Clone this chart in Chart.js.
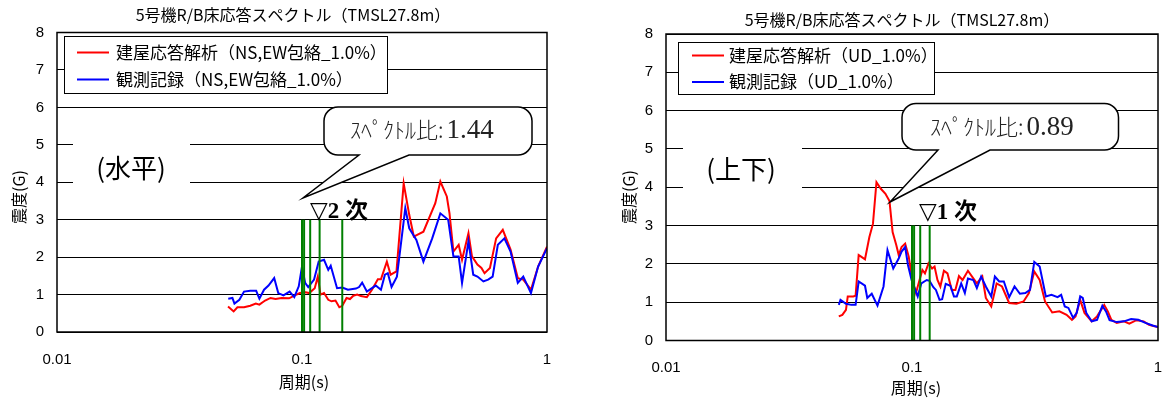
<!DOCTYPE html>
<html lang="ja">
<head>
<meta charset="UTF-8">
<title>5号機R/B床応答スペクトル</title>
<script src="https://cdn.jsdelivr.net/npm/chart.js"></script>
<style>
  html, body { margin: 0; padding: 0; background: #fff; }
  body { width: 1163px; height: 399px; position: relative; overflow: hidden; }
  .panel { position: absolute; top: 0; }
  #hPanel { left: 0; width: 580px; height: 399px; }
  #vPanel { left: 600px; width: 563px; height: 399px; }
</style>
</head>
<body>
<div class="panel" id="hPanel"><canvas id="hChart" width="580" height="399"></canvas></div>
<div class="panel" id="vPanel"><canvas id="vChart" width="563" height="399"></canvas></div>
<script>
// ---- data ----
const chartTitle = '5号機R/B床応答スペクトル（TMSL27.8m）';
const xTitle = '周期(s)';
const yTitle = '震度(G)';
const xTickValues = [0.01, 0.1, 1];

// horizontal (NS,EW envelope)
const hLabels = ['建屋応答解析（NS,EW包絡_1.0%）', '観測記録（NS,EW包絡_1.0%）'];
const hRedT = [0.0499, 0.0526, 0.0545, 0.058, 0.0615, 0.0648, 0.067, 0.0707, 0.0744, 0.078, 0.0825, 0.0886, 0.093, 0.098, 0.1034, 0.107, 0.1127, 0.116, 0.119, 0.123, 0.128, 0.132, 0.137, 0.142, 0.146, 0.152, 0.157, 0.162, 0.168, 0.174, 0.184, 0.193, 0.204, 0.21, 0.222, 0.23, 0.243, 0.26, 0.274, 0.286, 0.313, 0.35, 0.367, 0.39, 0.40, 0.415, 0.436, 0.45, 0.478, 0.494, 0.52, 0.54, 0.556, 0.585, 0.62, 0.66, 0.71, 0.76, 0.80, 0.86, 0.92, 1.0];
const hRedG = [0.68, 0.55, 0.66, 0.66, 0.70, 0.76, 0.73, 0.84, 0.91, 0.88, 0.91, 0.90, 0.97, 1.04, 1.06, 1.04, 1.17, 1.48, 1.0, 1.04, 0.86, 0.82, 0.84, 0.66, 0.70, 0.91, 0.88, 0.97, 1.0, 0.96, 0.93, 1.13, 1.41, 1.41, 1.88, 1.53, 1.62, 3.97, 3.13, 2.55, 2.68, 3.44, 4.02, 3.62, 3.17, 2.15, 2.33, 1.93, 2.64, 2.02, 1.80, 1.71, 1.57, 1.71, 2.5, 2.73, 2.2, 1.44, 1.40, 1.13, 1.75, 2.28];
const hBlueT = [0.05, 0.052, 0.053, 0.0555, 0.058, 0.0615, 0.065, 0.067, 0.070, 0.073, 0.077, 0.080, 0.084, 0.089, 0.093, 0.097, 0.100, 0.103, 0.106, 0.112, 0.117, 0.123, 0.128, 0.131, 0.139, 0.146, 0.154, 0.166, 0.171, 0.176, 0.184, 0.193, 0.20, 0.21, 0.218, 0.224, 0.232, 0.244, 0.264, 0.274, 0.293, 0.313, 0.34, 0.367, 0.395, 0.415, 0.436, 0.45, 0.478, 0.50, 0.52, 0.55, 0.575, 0.60, 0.63, 0.67, 0.71, 0.76, 0.80, 0.86, 0.92, 1.0];
const hBlueG = [0.89, 0.91, 0.76, 0.86, 1.08, 1.10, 1.10, 0.89, 1.13, 1.24, 1.44, 1.04, 0.98, 1.08, 0.93, 1.22, 1.75, 1.31, 1.2, 1.40, 1.88, 1.93, 1.66, 1.77, 1.17, 1.19, 1.13, 1.16, 1.2, 1.32, 1.08, 1.17, 1.24, 1.13, 1.53, 1.57, 1.2, 1.48, 3.31, 2.77, 2.46, 1.88, 2.5, 3.17, 3.0, 2.02, 2.02, 1.31, 2.42, 1.53, 1.48, 1.35, 1.40, 1.48, 2.33, 2.5, 2.15, 1.31, 1.48, 1.04, 1.75, 2.24];
const hModeT = [0.1, 0.102, 0.108, 0.118, 0.146];
const hRatio = '1.44';
const hDir = '(水平)';
const hModeText = '▽2 次';

// vertical (UD)
const vLabels = ['建屋応答解析（UD_1.0%）', '観測記録（UD_1.0%）'];
const vRedT = [0.0504, 0.0521, 0.0539, 0.0548, 0.0577, 0.0590, 0.0607, 0.0621, 0.0644, 0.0671, 0.0694, 0.0717, 0.0747, 0.0780, 0.0810, 0.0834, 0.0863, 0.0883, 0.0907, 0.0938, 0.0970, 0.1003, 0.1038, 0.1073, 0.1102, 0.1129, 0.1167, 0.1207, 0.1235, 0.1269, 0.1304, 0.1348, 0.1394, 0.1451, 0.1501, 0.1552, 0.1605, 0.1688, 0.1775, 0.1835, 0.1931, 0.1996, 0.2100, 0.2208, 0.2322, 0.2483, 0.2656, 0.2841, 0.2987, 0.3141, 0.3304, 0.3474, 0.3715, 0.3973, 0.4250, 0.4469, 0.4622, 0.4828, 0.5026, 0.5375, 0.5652, 0.6045, 0.6251, 0.6464, 0.6798, 0.7270, 0.7645, 0.8176, 0.8745, 0.9196, 0.9670, 1.0];
const vRedG = [0.63, 0.67, 0.80, 1.15, 1.15, 1.17, 2.23, 2.19, 2.12, 2.70, 3.05, 4.13, 3.96, 3.83, 3.64, 2.83, 2.49, 2.23, 2.44, 2.53, 2.19, 1.58, 1.24, 1.58, 1.84, 1.75, 2.01, 1.88, 1.93, 1.58, 1.41, 1.82, 1.75, 1.32, 1.32, 1.68, 1.58, 1.82, 1.62, 1.49, 1.67, 1.11, 0.89, 1.49, 1.41, 0.98, 0.96, 1.02, 1.24, 1.80, 1.58, 1.02, 0.73, 0.76, 0.67, 0.54, 0.63, 1.06, 0.72, 0.50, 0.63, 0.93, 0.76, 0.54, 0.46, 0.50, 0.44, 0.53, 0.50, 0.41, 0.37, 0.35];
const vBlueT = [0.0504, 0.0512, 0.0539, 0.0567, 0.0590, 0.0607, 0.0644, 0.0658, 0.0686, 0.0724, 0.0766, 0.0795, 0.0839, 0.0883, 0.0907, 0.0938, 0.0963, 0.0996, 0.1031, 0.1055, 0.1091, 0.1148, 0.1178, 0.1221, 0.1251, 0.1294, 0.1326, 0.1371, 0.1432, 0.1481, 0.1521, 0.1585, 0.1640, 0.1688, 0.1775, 0.1835, 0.1910, 0.1996, 0.2100, 0.2172, 0.2262, 0.2362, 0.2483, 0.2611, 0.2745, 0.2888, 0.3018, 0.3141, 0.3304, 0.3500, 0.3690, 0.3906, 0.4040, 0.4178, 0.4323, 0.4518, 0.4673, 0.4828, 0.4944, 0.5112, 0.5375, 0.5652, 0.5940, 0.6146, 0.6356, 0.6798, 0.7270, 0.7775, 0.8315, 0.8893, 0.9510, 1.0];
const vBlueG = [0.93, 1.06, 0.96, 0.93, 0.93, 1.54, 1.43, 1.11, 1.22, 0.91, 1.41, 2.36, 1.88, 2.14, 2.32, 2.44, 1.97, 1.58, 1.32, 1.15, 1.49, 1.58, 1.56, 1.39, 1.32, 1.06, 1.08, 1.48, 1.43, 1.15, 1.15, 1.49, 1.24, 1.62, 1.58, 1.37, 1.67, 1.41, 1.15, 1.67, 1.54, 1.54, 1.13, 1.41, 1.22, 1.24, 1.32, 2.05, 1.93, 1.15, 1.19, 1.13, 1.19, 0.89, 0.85, 0.59, 0.72, 1.15, 1.11, 0.72, 0.50, 0.54, 0.91, 0.76, 0.53, 0.48, 0.50, 0.56, 0.54, 0.46, 0.39, 0.35];
const vModeT = [0.1, 0.102, 0.108, 0.118];
const vRatio = '0.89';
const vDir = '(上下)';
const vModeText = '▽1 次';

const modeTop = 3;

// ---- drawing ----
const SANS = '"Noto Sans CJK JP", "Liberation Sans", sans-serif';
const NUM = '"Liberation Sans", Arial, sans-serif';
const SERIF = '"Liberation Serif", "DejaVu Serif", "Noto Sans CJK JP", serif';

function pts(xs, ys) {
  return xs.map((x, i) => ({ x: x, y: ys[i] }));
}

function modeLines(ts) {
  const out = [];
  ts.forEach(t => { out.push({ x: t, y: 0 }, { x: t, y: modeTop }, { x: t, y: null }); });
  return out;
}

function drawCallout(ctx, c) {
  const r = 14;
  const { x0, y0, x1, y1, b0, b1, tip } = c;
  ctx.beginPath();
  ctx.moveTo(x0 + r, y0);
  ctx.lineTo(x1 - r, y0);
  ctx.arcTo(x1, y0, x1, y0 + r, r);
  ctx.lineTo(x1, y1 - r);
  ctx.arcTo(x1, y1, x1 - r, y1, r);
  ctx.lineTo(b1, y1);
  ctx.lineTo(tip[0], tip[1]);
  ctx.lineTo(b0, y1);
  ctx.lineTo(x0 + r, y1);
  ctx.arcTo(x0, y1, x0, y1 - r, r);
  ctx.lineTo(x0, y0 + r);
  ctx.arcTo(x0, y0, x0 + r, y0, r);
  ctx.closePath();
  ctx.fillStyle = '#fff';
  ctx.fill();
  ctx.strokeStyle = '#000';
  ctx.lineWidth = 1.5;
  ctx.stroke();
}

const decor = {
  id: 'decor',
  afterDraw(chart) {
    const o = chart.options.plugins.decor;
    const ctx = chart.ctx;
    const a = chart.chartArea;
    const xs = chart.scales.x;
    ctx.save();

    // frame
    ctx.strokeStyle = '#000';
    ctx.lineWidth = 1.5;
    ctx.strokeRect(a.left, a.top, a.right - a.left, a.bottom - a.top);

    // x tick labels (drawn here so they add no side padding)
    ctx.fillStyle = '#000';
    ctx.textAlign = 'center';
    ctx.textBaseline = 'middle';
    ctx.font = '15px ' + NUM;
    xTickValues.forEach(v => ctx.fillText(String(v), xs.getPixelForValue(v), o.xTickY));

    // titles
    ctx.font = '16px ' + SANS;
    ctx.fillText(chartTitle, o.titleX, o.titleY);
    ctx.fillText(xTitle, o.xTitleX, o.xTitleY);
    ctx.save();
    ctx.translate(o.yTitleX, o.yTitleY);
    ctx.rotate(-Math.PI / 2);
    ctx.fillText(yTitle, 0, 0);
    ctx.restore();

    // direction label on white box
    ctx.fillStyle = '#fff';
    ctx.fillRect(o.dirBox[0], o.dirBox[1], o.dirBox[2], o.dirBox[3]);
    ctx.fillStyle = '#000';
    ctx.font = '26px ' + SANS;
    ctx.fillText(o.dir, o.dirX, o.dirY);

    // legend
    const lg = o.legend;
    ctx.fillStyle = '#fff';
    ctx.fillRect(lg.x0, lg.y0, lg.x1 - lg.x0, lg.y1 - lg.y0);
    ctx.strokeStyle = '#000';
    ctx.lineWidth = 1;
    ctx.strokeRect(lg.x0 + 0.5, lg.y0 + 0.5, lg.x1 - lg.x0, lg.y1 - lg.y0);
    ctx.font = '17px ' + SANS;
    ctx.textAlign = 'left';
    [0, 1].forEach(i => {
      const ds = chart.data.datasets[i];
      const y = lg.rows[i];
      ctx.strokeStyle = ds.borderColor;
      ctx.lineWidth = 2;
      ctx.beginPath();
      ctx.moveTo(lg.lineX0, y);
      ctx.lineTo(lg.lineX1, y);
      ctx.stroke();
      ctx.fillStyle = '#000';
      ctx.fillText(ds.label, lg.textX, y);
    });

    // callout
    const c = o.callout;
    drawCallout(ctx, c);
    ctx.fillStyle = '#222';
    ctx.textAlign = 'left';
    ctx.font = '300 22px ' + SANS;
    const kana = 'ｽﾍﾟｸﾄﾙ比:';
    ctx.fillText(kana, c.textX, c.textY);
    const kw = ctx.measureText(kana).width;
    ctx.font = '27px ' + SERIF;
    ctx.fillText(o.ratio, c.textX + kw + 3, c.textY + 1);

    // mode marker text
    ctx.fillStyle = '#000';
    ctx.font = 'bold 23px ' + SERIF;
    ctx.fillText(o.modeText, o.modeX, o.modeY);

    ctx.restore();
  }
};

function makeChart(id, p) {
  const w = p.w, h = p.h, area = p.area, xh = 40;
  return new Chart(document.getElementById(id), {
    type: 'line',
    data: {
      datasets: [
        { label: p.labels[0], data: pts(p.redT, p.redG), borderColor: '#ff0000', borderWidth: 2, pointRadius: 0, order: 3 },
        { label: p.labels[1], data: pts(p.blueT, p.blueG), borderColor: '#0000ff', borderWidth: 2, pointRadius: 0, order: 2 },
        { label: 'mode', data: modeLines(p.modeT), borderColor: '#008000', borderWidth: 2, pointRadius: 0, spanGaps: false, order: 1 }
      ]
    },
    options: {
      responsive: false,
      animation: false,
      devicePixelRatio: 1,
      layout: { padding: { left: 0, top: area.t, right: w - area.r, bottom: h - area.b - xh } },
      plugins: {
        legend: { display: false },
        tooltip: { enabled: false },
        decor: p.decor
      },
      scales: {
        x: {
          type: 'logarithmic',
          min: 0.01,
          max: 1,
          afterBuildTicks: s => { s.ticks = xTickValues.map(v => ({ value: v })); },
          afterFit: s => { s.height = xh; },
          ticks: { display: false },
          grid: { display: false, drawTicks: false },
          border: { display: false }
        },
        y: {
          min: 0,
          max: 8,
          afterFit: s => { s.width = area.l; },
          ticks: { stepSize: 1, padding: 13, color: '#000', font: { family: NUM, size: 15 } },
          grid: { color: '#000', lineWidth: 1, drawTicks: false },
          border: { display: false }
        }
      }
    },
    plugins: [decor]
  });
}

makeChart('hChart', {
  w: 580, h: 399,
  area: { l: 57, t: 32.5, r: 547, b: 332 },
  labels: hLabels,
  redT: hRedT, redG: hRedG, blueT: hBlueT, blueG: hBlueG, modeT: hModeT,
  decor: {
    xTickY: 360,
    titleX: 293, titleY: 15,
    xTitleX: 304, xTitleY: 382,
    yTitleX: 19, yTitleY: 197,
    dir: hDir, dirX: 131, dirY: 168, dirBox: [73, 139, 117, 56],
    legend: { x0: 64, y0: 36, x1: 387, y1: 93, rows: [52.5, 79.5], lineX0: 77, lineX1: 109, textX: 116 },
    callout: { x0: 324, y0: 107, x1: 532, y1: 155, b0: 359, b1: 409, tip: [303, 198], textX: 350, textY: 130 },
    ratio: hRatio,
    modeText: hModeText, modeX: 310, modeY: 212
  }
});

makeChart('vChart', {
  w: 563, h: 399,
  area: { l: 66, t: 34, r: 558, b: 340.5 },
  labels: vLabels,
  redT: vRedT, redG: vRedG, blueT: vBlueT, blueG: vBlueG, modeT: vModeT,
  decor: {
    xTickY: 368,
    titleX: 302, titleY: 20,
    xTitleX: 316, xTitleY: 388,
    yTitleX: 29, yTitleY: 197,
    dir: vDir, dirX: 141, dirY: 169, dirBox: [83, 139, 119, 56],
    legend: { x0: 78, y0: 42, x1: 334, y1: 94, rows: [55.5, 82], lineX0: 92, lineX1: 124, textX: 129 },
    callout: { x0: 302, y0: 103.5, x1: 518.5, y1: 150, b0: 338, b1: 390, tip: [290, 202], textX: 330, textY: 127 },
    ratio: vRatio,
    modeText: vModeText, modeX: 319, modeY: 213
  }
});
</script>
</body>
</html>
